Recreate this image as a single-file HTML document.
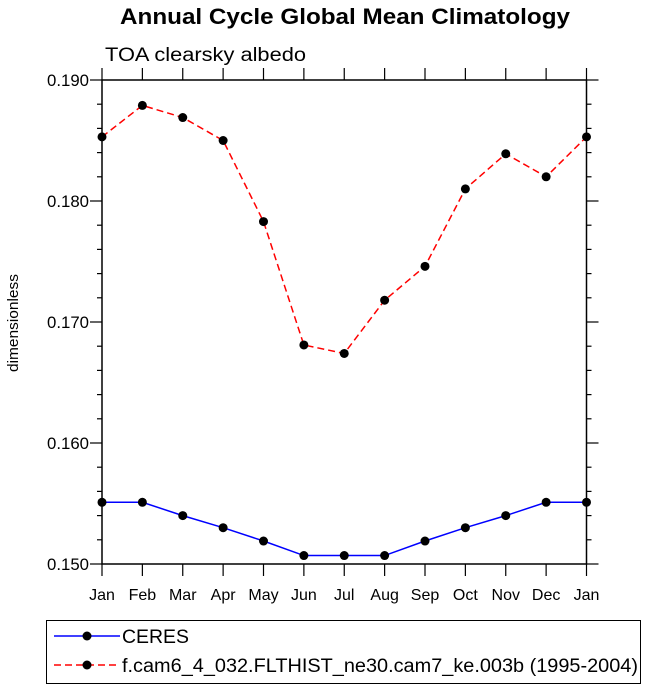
<!DOCTYPE html>
<html><head><meta charset="utf-8"><style>
body{margin:0;background:#fff;font-family:"Liberation Sans",sans-serif}
</style></head><body>
<svg width="648" height="691" xmlns="http://www.w3.org/2000/svg" font-family="Liberation Sans, sans-serif">
<text x="345" y="24" text-anchor="middle" font-size="22" font-weight="bold" textLength="450" lengthAdjust="spacingAndGlyphs">Annual Cycle Global Mean Climatology</text>
<text x="105" y="61" font-size="19" textLength="201" lengthAdjust="spacingAndGlyphs">TOA clearsky albedo</text>
<text transform="translate(18,323) rotate(-90)" text-anchor="middle" font-size="15" textLength="98" lengthAdjust="spacingAndGlyphs">dimensionless</text>
<g id="axes"></g>
<g id="series"></g>
<g>
<rect x="46.5" y="620.5" width="594" height="63" fill="none" stroke="#000" stroke-width="1"/>
<g>
<line x1="54" y1="636" x2="120" y2="636" stroke="#0000ff" stroke-width="1.5"/>
<circle cx="87" cy="636" r="4.5" fill="#000"/>
<text x="122" y="643" font-size="19" textLength="67" lengthAdjust="spacingAndGlyphs">CERES</text></g>
<g>
<line x1="54" y1="665" x2="120" y2="665" stroke="#ff0000" stroke-width="1.5" stroke-dasharray="7,4"/>
<circle cx="87" cy="665" r="4.5" fill="#000"/>
<text x="122" y="672" font-size="19" textLength="516" lengthAdjust="spacingAndGlyphs">f.cam6_4_032.FLTHIST_ne30.cam7_ke.003b (1995-2004)</text></g>
</g>
</svg>
<script>
const months=["Jan","Feb","Mar","Apr","May","Jun","Jul","Aug","Sep","Oct","Nov","Dec","Jan"];
const ceres=[0.1551,0.1551,0.1540,0.1530,0.1519,0.1507,0.1507,0.1507,0.1519,0.1530,0.1540,0.1551,0.1551];
const model=[0.1853,0.1879,0.1869,0.1850,0.1783,0.1681,0.1674,0.1718,0.1746,0.1810,0.1839,0.1820,0.1853];
const yTicks=[0.150,0.160,0.170,0.180,0.190];
const yTickLabels=["0.150","0.160","0.170","0.180","0.190"];
const NS="http://www.w3.org/2000/svg";
const L=102,R=586.5,T=80,B=564,ymin=0.150,ymax=0.190;
const xs=i=>L+(R-L)*i/(months.length-1);
const ys=v=>B-(v-ymin)/(ymax-ymin)*(B-T);
function mk(tag,attrs,parent){const e=document.createElementNS(NS,tag);for(const k in attrs)e.setAttribute(k,attrs[k]);parent.appendChild(e);return e;}
const ax=document.getElementById('axes');
const frame=mk('rect',{x:L,y:T,width:R-L,height:B-T,fill:'none',stroke:'#000','stroke-width':1.5},ax);


for(let v=ymin;v<=ymax+1e-9;v+=0.002){
  const major=Math.abs(Math.round(v*1000)%10)<0.5;
  const len=major?12:5,y=ys(v);
  mk('line',{x1:L-len,y1:y,x2:L,y2:y,stroke:'#000','stroke-width':1.2},ax);
  mk('line',{x1:R,y1:y,x2:R+len,y2:y,stroke:'#000','stroke-width':1.2},ax);
}
yTicks.forEach((v,i)=>{
  const t=mk('text',{x:L-13,y:ys(v)+6,'text-anchor':'end','font-size':17,textLength:42,lengthAdjust:'spacingAndGlyphs'},ax);
  t.textContent=yTickLabels[i];
  
  
});
months.forEach((m,i)=>{
  const x=xs(i);
  mk('line',{x1:x,y1:B,x2:x,y2:B+12,stroke:'#000','stroke-width':1.2},ax);
  mk('line',{x1:x,y1:T-12,x2:x,y2:T,stroke:'#000','stroke-width':1.2},ax);
  const t=mk('text',{x:x,y:B+36,'text-anchor':'middle','font-size':16},ax);
  t.textContent=m;
  
  
});
const sg=document.getElementById('series');
function draw(data,color,dash,name){
  const pts=data.map((v,i)=>xs(i)+','+ys(v)).join(' ');
  const pl=mk('polyline',{points:pts,fill:'none',stroke:color,'stroke-width':1.5,'stroke-dasharray':dash},sg);
  
  
  data.forEach((v,i)=>{
    const c=mk('circle',{cx:xs(i),cy:ys(v),r:4.5,fill:'#000'},sg);
    
    
  });
}
draw(ceres,'#0000ff','none','ceres');
draw(model,'#ff0000','7,4','model');
</script>
</body></html>
